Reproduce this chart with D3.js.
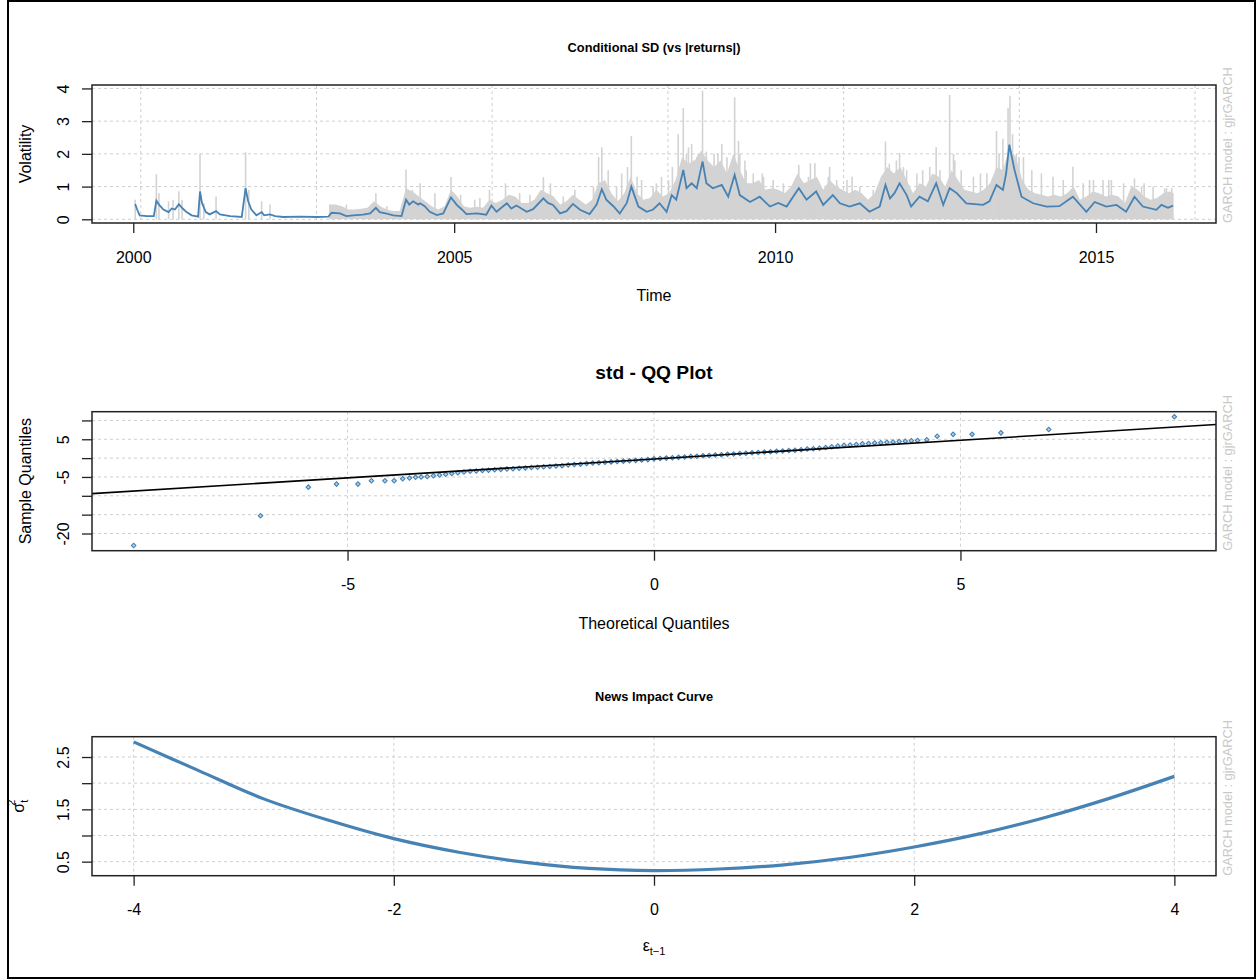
<!DOCTYPE html>
<html><head><meta charset="utf-8">
<script src="https://cdn.jsdelivr.net/npm/d3@7"></script>
<style>
body{margin:0;background:#fff;}
text{font-family:"Liberation Sans",Arial,sans-serif;}
</style>
</head><body>
<svg id="c" width="1259" height="980"></svg>
<script>
// ---------------- DATA ----------------
// Panel 1: conditional SD (blue) and |returns| (grey), x in decimal years
const sdYears = [2000.03,2000.06,2000.10,2000.21,2000.32,2000.36,2000.40,2000.47,2000.55,2000.60,2000.65,2000.71,2000.77,2000.83,2000.91,2001.01,2001.04,2001.07,2001.13,2001.19,2001.29,2001.35,2001.51,2001.69,2001.75,2001.79,2001.84,2001.92,2002.00,2002.04,2002.13,2002.21,2002.34,2002.60,2002.86,2003.04,2003.09,2003.22,2003.32,2003.43,2003.58,2003.69,2003.78,2003.84,2003.95,2004.05,2004.18,2004.25,2004.30,2004.36,2004.44,2004.47,2004.54,2004.62,2004.73,2004.83,2004.95,2005.04,2005.12,2005.19,2005.35,2005.50,2005.58,2005.66,2005.82,2005.89,2005.97,2006.13,2006.23,2006.39,2006.46,2006.54,2006.65,2006.75,2006.85,2006.96,2007.11,2007.22,2007.30,2007.37,2007.48,2007.58,2007.69,2007.76,2007.87,2008.00,2008.10,2008.20,2008.31,2008.39,2008.46,2008.57,2008.62,2008.70,2008.78,2008.87,2008.93,2009.03,2009.17,2009.27,2009.37,2009.45,2009.61,2009.76,2009.92,2010.05,2010.18,2010.37,2010.49,2010.64,2010.75,2010.90,2011.01,2011.16,2011.32,2011.47,2011.63,2011.72,2011.79,2011.86,2011.94,2012.05,2012.12,2012.25,2012.38,2012.51,2012.62,2012.72,2012.83,2012.98,2013.24,2013.34,2013.45,2013.55,2013.60,2013.65,2013.73,2013.84,2014.02,2014.23,2014.43,2014.64,2014.85,2014.98,2015.16,2015.32,2015.47,2015.60,2015.73,2015.94,2016.02,2016.12,2016.20];
const sdValues = [0.47,0.30,0.12,0.10,0.10,0.57,0.45,0.30,0.22,0.33,0.30,0.46,0.33,0.22,0.12,0.08,0.85,0.50,0.22,0.15,0.25,0.15,0.10,0.07,0.95,0.55,0.30,0.12,0.22,0.12,0.15,0.10,0.07,0.08,0.07,0.08,0.20,0.18,0.10,0.12,0.14,0.18,0.35,0.22,0.17,0.12,0.10,0.60,0.45,0.55,0.45,0.49,0.40,0.23,0.13,0.18,0.67,0.44,0.30,0.16,0.18,0.14,0.42,0.23,0.49,0.33,0.42,0.23,0.31,0.64,0.50,0.44,0.18,0.25,0.47,0.29,0.16,0.45,0.92,0.60,0.40,0.18,0.50,1.00,0.39,0.23,0.30,0.49,0.23,0.74,0.60,1.51,0.95,1.10,0.95,1.77,1.10,0.95,1.05,0.69,1.36,0.74,0.53,0.69,0.39,0.50,0.39,0.95,0.60,0.85,0.44,0.74,0.49,0.39,0.49,0.23,0.39,1.05,0.64,0.80,1.10,0.74,0.39,0.69,0.55,1.10,0.44,0.95,0.80,0.49,0.44,0.55,1.05,0.90,1.40,2.28,1.51,0.69,0.49,0.39,0.40,0.69,0.23,0.53,0.39,0.44,0.23,0.69,0.39,0.29,0.44,0.35,0.42];

const retBodyYears = [2003.05,2003.15,2003.25,2003.35,2003.45,2003.55,2003.65,2003.75,2003.85,2003.95,2004.05,2004.15,2004.25,2004.35,2004.45,2004.55,2004.65,2004.75,2004.85,2004.95,2005.05,2005.15,2005.25,2005.35,2005.45,2005.55,2005.65,2005.75,2005.85,2005.95,2006.05,2006.15,2006.25,2006.35,2006.45,2006.55,2006.65,2006.75,2006.85,2006.95,2007.05,2007.15,2007.25,2007.35,2007.45,2007.55,2007.65,2007.75,2007.85,2007.95,2008.05,2008.15,2008.25,2008.35,2008.45,2008.55,2008.65,2008.75,2008.85,2008.95,2009.05,2009.15,2009.25,2009.35,2009.45,2009.55,2009.65,2009.75,2009.85,2009.95,2010.05,2010.15,2010.25,2010.35,2010.45,2010.55,2010.65,2010.75,2010.85,2010.95,2011.05,2011.15,2011.25,2011.35,2011.45,2011.55,2011.65,2011.75,2011.85,2011.95,2012.05,2012.15,2012.25,2012.35,2012.45,2012.55,2012.65,2012.75,2012.85,2012.95,2013.05,2013.15,2013.25,2013.35,2013.45,2013.55,2013.65,2013.75,2013.85,2013.95,2014.05,2014.15,2014.25,2014.35,2014.45,2014.55,2014.65,2014.75,2014.85,2014.95,2015.05,2015.15,2015.25,2015.35,2015.45,2015.55,2015.65,2015.75,2015.85,2015.95,2016.05,2016.15,2016.21];
const retBodyValues = [0.45,0.45,0.40,0.30,0.30,0.32,0.35,0.55,0.40,0.30,0.25,0.25,0.95,0.85,0.70,0.55,0.40,0.30,0.40,0.90,0.70,0.40,0.35,0.38,0.35,0.60,0.50,0.60,0.75,0.70,0.50,0.50,0.60,0.90,0.80,0.70,0.45,0.55,0.75,0.60,0.45,0.60,1.10,1.20,0.80,0.55,0.80,1.30,0.80,0.60,0.65,0.90,0.70,0.80,1.20,1.90,1.70,1.80,2.10,1.80,1.60,1.80,1.40,2.00,1.50,1.10,1.10,1.20,0.90,0.95,0.90,0.80,1.00,1.40,1.10,1.20,1.30,0.90,1.20,1.00,0.90,0.80,0.90,0.80,0.60,0.80,1.30,1.60,1.40,1.60,1.20,0.80,1.10,1.00,1.40,1.30,1.00,1.50,1.20,0.90,0.85,0.80,0.90,1.10,1.60,1.50,2.20,1.90,1.20,0.90,0.80,0.75,0.70,0.75,0.70,0.80,1.00,0.60,0.70,0.85,0.80,0.70,0.75,0.70,0.50,1.00,0.90,0.70,0.60,0.65,0.80,0.85,0.80];

const retSpikeYears = [2000.03,2000.36,2000.40,2000.55,2000.62,2000.71,2000.76,2001.04,2001.10,2001.29,2001.75,2001.80,2002.00,2002.13,2003.32,2003.78,2003.95,2004.25,2004.35,2004.47,2004.70,2004.95,2005.10,2005.32,2005.40,2005.55,2005.80,2006.02,2006.18,2006.39,2006.50,2006.70,2006.88,2007.17,2007.25,2007.30,2007.40,2007.53,2007.61,2007.70,2007.76,2007.85,2007.92,2008.10,2008.15,2008.23,2008.34,2008.40,2008.49,2008.57,2008.62,2008.65,2008.70,2008.73,2008.78,2008.80,2008.87,2008.93,2009.05,2009.11,2009.17,2009.25,2009.37,2009.43,2009.45,2009.53,2009.55,2009.66,2009.80,2009.82,2009.97,2010.13,2010.37,2010.52,2010.55,2010.62,2010.83,2010.85,2010.96,2011.12,2011.20,2011.32,2011.53,2011.72,2011.78,2011.82,2011.89,2011.94,2012.00,2012.05,2012.21,2012.30,2012.41,2012.51,2012.57,2012.72,2012.78,2012.80,2012.90,2013.09,2013.20,2013.30,2013.45,2013.49,2013.55,2013.63,2013.66,2013.70,2013.76,2013.80,2013.87,2014.00,2014.15,2014.33,2014.49,2014.64,2014.80,2014.90,2014.96,2015.11,2015.20,2015.24,2015.43,2015.60,2015.71,2015.75,2015.89,2016.07,2016.10,2016.18];
const retSpikeValues = [0.60,1.38,0.80,0.55,0.60,0.86,0.60,2.00,0.50,0.70,2.05,0.90,0.55,0.45,0.45,0.80,0.40,1.52,0.90,1.10,0.80,1.29,0.75,0.60,0.65,0.90,1.10,0.80,0.75,1.29,1.10,0.70,0.90,1.00,1.90,2.20,1.50,1.00,1.40,1.60,2.55,1.30,1.20,1.00,1.10,1.30,1.20,1.60,2.60,3.40,2.00,2.20,2.30,1.80,1.90,2.00,3.93,2.07,2.00,2.00,2.30,1.90,3.73,2.40,2.00,1.80,1.50,1.40,1.40,1.30,1.20,1.10,1.66,1.30,1.71,1.71,1.30,1.60,1.20,1.20,1.30,1.00,0.90,2.38,1.70,1.40,1.80,2.02,1.60,1.50,1.40,1.50,1.60,2.20,1.50,3.80,2.00,1.80,1.50,1.30,1.40,1.40,2.70,2.00,2.46,3.40,3.78,2.60,2.00,1.90,1.90,1.50,1.40,1.30,1.20,1.61,1.10,1.20,1.20,1.20,1.20,1.20,1.10,1.25,1.00,1.10,1.00,0.95,0.95,0.95];

const volTicks = [0,1,2,3,4];
const yearTicks = [2000,2005,2010,2015];
const gridDays = [11000,12000,13000,14000,15000,16000,17000]; // days since 1970-01-01

// Panel 2: QQ plot
const qqTheoretical = [-8.49,-6.42,-5.64,-5.18,-4.83,-4.61,-4.39,-4.24,-4.10,-3.99,-3.89,-3.80,-3.70,
 -3.6,-3.5,-3.4,-3.3,-3.2,-3.1,-3.0,-2.9,-2.8,-2.7,-2.6,-2.5,-2.4,-2.3,-2.2,-2.1,-2.0,-1.9,-1.8,-1.7,-1.6,-1.5,-1.4,-1.3,-1.2,-1.1,-1.0,-0.9,-0.8,-0.7,-0.6,-0.5,-0.4,-0.3,-0.2,-0.1,0.0,0.1,0.2,0.3,0.4,0.5,0.6,0.7,0.8,0.9,1.0,1.1,1.2,1.3,1.4,1.5,1.6,1.7,1.8,1.9,2.0,2.1,2.2,2.3,2.4,2.5,2.6,2.7,2.8,2.9,3.0,3.1,3.2,3.3,3.4,3.5,3.6,3.7,3.8,3.9,4.0,4.1,4.2,4.3,
 4.45,4.62,4.88,5.19,5.66,6.44,8.49];
const qqSample = [-23.2,-15.3,-7.7,-6.9,-6.9,-6.0,-6.0,-6.0,-5.5,-5.3,-5.1,-5.0,-4.9,
 -4.7,-4.5,-4.3,-4.1,-3.9,-3.7,-3.5,-3.4,-3.3,-3.2,-3.1,-3.0,-2.9,-2.8,-2.7,-2.6,-2.5,-2.4,-2.3,-2.2,-2.1,-2.0,-1.8,-1.7,-1.6,-1.4,-1.3,-1.2,-1.1,-1.0,-0.9,-0.8,-0.7,-0.6,-0.5,-0.4,-0.2,-0.1,0.0,0.1,0.2,0.3,0.4,0.5,0.6,0.7,0.8,0.9,1.0,1.1,1.2,1.3,1.4,1.5,1.6,1.7,1.8,1.9,2.0,2.1,2.2,2.4,2.5,2.6,2.8,3.0,3.2,3.4,3.5,3.6,3.8,3.9,4.0,4.1,4.2,4.3,4.4,4.5,4.6,4.7,
 4.9,5.8,6.3,6.3,6.7,7.6,10.95];
const qqLineIntercept = -0.25;
const qqLineSlope = 1.0;
const qqYTicks = [10,5,0,-5,-10,-15,-20];
const qqYLabels = [5,-5,-20];
const qqXTicks = [-5,0,5];

// Panel 3: news impact curve
const nicEps = [-4,-3.5,-3,-2.5,-2,-1.5,-1,-0.5,0,0.5,1,1.5,2,2.5,3,3.5,4];
const nicSigma = [2.79,2.24,1.70,1.29,0.94,0.68,0.49,0.37,0.33,0.36,0.44,0.58,0.78,1.03,1.34,1.71,2.13];
const nicXTicks = [-4,-2,0,2,4];
const nicYTicks = [0.5,1.0,1.5,2.0,2.5];
const nicYLabels = [0.5,1.5,2.5];

// ---------------- DRAWING ----------------
const svg = d3.select('#c');
const L = 92, R = 1216;
const BLUE = '#4682B4', GREY = '#D3D3D3', GRID = '#cfcfcf', MT = '#c8c8c8';

svg.append('rect').attr('x',8).attr('y',1).attr('width',1247).attr('height',977)
  .attr('fill','none').attr('stroke','#000').attr('stroke-width',2);

function ext(a,b){const r=b-a;return [a-0.04*r,b+0.04*r];}

function makePanel(top,bottom,xDom,yDom,xGrid,yGrid){
  const x = d3.scaleLinear().domain(xDom).range([L,R]);
  const y = d3.scaleLinear().domain(yDom).range([bottom,top]);
  const g = svg.append('g');
  g.selectAll(null).data(yGrid).join('line')
    .attr('x1',L).attr('x2',R).attr('y1',d=>y(d)).attr('y2',d=>y(d))
    .attr('stroke',GRID).attr('stroke-width',1).attr('stroke-dasharray','3,3');
  g.selectAll(null).data(xGrid).join('line')
    .attr('y1',top).attr('y2',bottom).attr('x1',d=>x(d)).attr('x2',d=>x(d))
    .attr('stroke',GRID).attr('stroke-width',1).attr('stroke-dasharray','3,3');
  return {x,y,g,top,bottom};
}

function finishPanel(p,xTicks,xFmt,yTicks,yFmt,title,titleSize,titleY,xLab,yLab){
  svg.append('rect').attr('x',L).attr('y',p.top).attr('width',R-L).attr('height',p.bottom-p.top)
    .attr('fill','none').attr('stroke','#222').attr('stroke-width',1.5);
  const xa = svg.append('g').attr('transform',`translate(0,${p.bottom})`)
    .call(d3.axisBottom(p.x).tickValues(xTicks).tickSize(10).tickFormat(xFmt));
  xa.select('.domain').remove();
  xa.selectAll('line').attr('stroke','#222').attr('stroke-width',1.3);
  xa.selectAll('text').attr('font-size',16).attr('fill','#000').attr('y',39.5).attr('dy',0)
    .attr('font-family','"Liberation Sans",Arial,sans-serif');
  const ya = svg.append('g').attr('transform',`translate(${L},0)`)
    .call(d3.axisLeft(p.y).tickValues(yTicks).tickSize(10).tickFormat(yFmt));
  ya.select('.domain').remove();
  ya.selectAll('line').attr('stroke','#222').attr('stroke-width',1.3);
  ya.selectAll('text').attr('font-size',16).attr('fill','#000')
    .attr('transform','rotate(-90)').attr('x',0).attr('y',-23).attr('dy',0)
    .attr('text-anchor','middle').attr('font-family','"Liberation Sans",Arial,sans-serif');
  svg.append('text').attr('x',(L+R)/2).attr('y',titleY).attr('text-anchor','middle')
    .attr('font-weight','bold').attr('font-size',titleSize).text(title);
  svg.append('text').attr('transform',`translate(1232,${p.bottom}) rotate(-90)`)
    .attr('text-anchor','start').attr('fill',MT).attr('font-size',12.8)
    .text('GARCH model : gjrGARCH');
  if (xLab) xLab(p);
  if (yLab) yLab(p);
}

// ---- Panel 1
const dayToYear = d => {const dt=new Date(d*864e5);const y=dt.getUTCFullYear();
  const a=Date.UTC(y,0,1), b=Date.UTC(y+1,0,1); return y+(dt-a)/(b-a);};
const p1 = makePanel(85,223,[1999.357,2016.87],[-0.113,4.105],gridDays.map(dayToYear),volTicks);
const retArea = d3.area().x(d=>p1.x(d[0])).y0(p1.y(0)).y1(d=>p1.y(d[1]));
p1.g.append('path').datum(retBodyYears.map((t,i)=>[t,retBodyValues[i]]))
  .attr('d',retArea).attr('fill',GREY);
p1.g.selectAll(null).data(retSpikeYears.map((t,i)=>[t,retSpikeValues[i]])).join('line')
  .attr('x1',d=>p1.x(d[0])).attr('x2',d=>p1.x(d[0])).attr('y1',p1.y(0)).attr('y2',d=>p1.y(d[1]))
  .attr('stroke',GREY).attr('stroke-width',1.6);
p1.g.append('path').datum(sdYears.map((t,i)=>[t,sdValues[i]]))
  .attr('d',d3.line().x(d=>p1.x(d[0])).y(d=>p1.y(d[1])))
  .attr('fill','none').attr('stroke',BLUE).attr('stroke-width',1.8);
finishPanel(p1,yearTicks,d=>String(d),volTicks,d=>String(d),
  'Conditional SD (vs |returns|)',12.8,52,
  p=>svg.append('text').attr('x',(L+R)/2).attr('y',p.bottom+78).attr('text-anchor','middle').attr('font-size',16).text('Time'),
  p=>svg.append('text').attr('transform',`translate(31,${(p.top+p.bottom)/2}) rotate(-90)`).attr('text-anchor','middle').attr('font-size',16).text('Volatility'));

// ---- Panel 2
const qqX = ext(d3.min(qqTheoretical),d3.max(qqTheoretical));
const qqY = ext(d3.min(qqSample),d3.max(qqSample));
const p2 = makePanel(411.7,550.7,qqX,qqY,qqXTicks,qqYTicks);
p2.g.selectAll(null).data(qqTheoretical.map((t,i)=>[t,qqSample[i]])).join('path')
  .attr('transform',d=>`translate(${p2.x(d[0])},${p2.y(d[1])}) rotate(45)`)
  .attr('d',d3.symbol(d3.symbolSquare,10))
  .attr('fill','#b9d0e6').attr('stroke',BLUE).attr('stroke-width',1.1);
p2.g.append('line')
  .attr('x1',p2.x(qqX[0])).attr('y1',p2.y(qqLineIntercept+qqLineSlope*qqX[0]))
  .attr('x2',p2.x(qqX[1])).attr('y2',p2.y(qqLineIntercept+qqLineSlope*qqX[1]))
  .attr('stroke','#000').attr('stroke-width',1.6);
finishPanel(p2,qqXTicks,d=>String(d),qqYTicks,d=>qqYLabels.includes(d)?String(d):'',
  'std - QQ Plot',19.2,379,
  p=>svg.append('text').attr('x',(L+R)/2).attr('y',p.bottom+78).attr('text-anchor','middle').attr('font-size',16).text('Theoretical Quantiles'),
  p=>svg.append('text').attr('transform',`translate(31,${(p.top+p.bottom)/2}) rotate(-90)`).attr('text-anchor','middle').attr('font-size',16).text('Sample Quantiles'));

// ---- Panel 3
const nX = ext(d3.min(nicEps),d3.max(nicEps));
const nY = ext(d3.min(nicSigma),d3.max(nicSigma));
const p3 = makePanel(736.7,875.7,nX,nY,nicXTicks,nicYTicks);
p3.g.append('path').datum(nicEps.map((e,i)=>[e,nicSigma[i]]))
  .attr('d',d3.line().curve(d3.curveCatmullRom).x(d=>p3.x(d[0])).y(d=>p3.y(d[1])))
  .attr('fill','none').attr('stroke',BLUE).attr('stroke-width',3.2);
finishPanel(p3,nicXTicks,d=>String(d),nicYTicks,d=>nicYLabels.includes(d)?d.toFixed(1):'',
  'News Impact Curve',12.8,701,
  p=>{const t=svg.append('text').attr('x',(L+R)/2).attr('y',p.bottom+75).attr('text-anchor','middle').attr('font-size',16);
      t.append('tspan').text('ε'); t.append('tspan').attr('font-size',11).attr('dy',4).text('t−1');},
  p=>{const t=svg.append('text').attr('transform',`translate(24,${(p.top+p.bottom)/2}) rotate(-90)`).attr('text-anchor','middle').attr('font-size',16);
      t.append('tspan').text('σ'); t.append('tspan').attr('font-size',11).attr('dy',4).text('t');
      t.append('tspan').attr('font-size',11).attr('dx',-6).attr('dy',-13).text('2');});
</script>
</body></html>
